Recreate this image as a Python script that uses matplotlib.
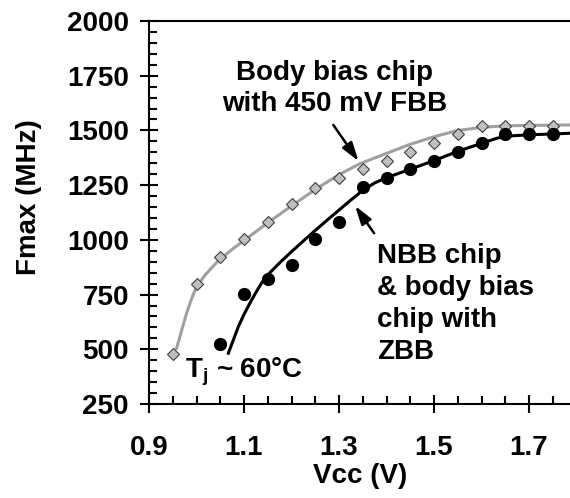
import matplotlib
matplotlib.use('Agg')
import matplotlib.pyplot as plt
from matplotlib.ticker import MultipleLocator, FixedLocator

plt.rcParams['font.family'] = ['Liberation Sans', 'DejaVu Sans']
plt.rcParams['font.weight'] = 'bold'
plt.rcParams['mathtext.fontset'] = 'custom'
plt.rcParams['mathtext.rm'] = 'Liberation Sans:bold'
plt.rcParams['mathtext.it'] = 'Liberation Sans:bold'
plt.rcParams['mathtext.bf'] = 'Liberation Sans:bold'

### Messpunkte ###
vcc_fbb = [0.95, 1.00, 1.05, 1.10, 1.15, 1.20, 1.25, 1.30, 1.35, 1.40, 1.45, 1.50, 1.55, 1.60, 1.65, 1.70, 1.75]
f_fbb = [480, 800, 920, 1002, 1083, 1162, 1238, 1281, 1324, 1360, 1403, 1441, 1482, 1522, 1522, 1522, 1522]

vcc_zbb = [1.05, 1.10, 1.15, 1.20, 1.25, 1.30, 1.35, 1.40, 1.45, 1.50, 1.55, 1.60, 1.65, 1.70, 1.75]
f_zbb = [523, 752, 820, 885, 1002, 1083, 1240, 1284, 1324, 1360, 1403, 1441, 1482, 1482, 1482]

### Trendlinien ###
vcc_fit_fbb = [0.958, 0.969, 0.979, 0.990, 1.000, 1.018, 1.046, 1.077, 1.10, 1.15, 1.20, 1.25, 1.30, 1.344, 1.40, 1.449, 1.50, 1.548, 1.60, 1.65, 1.70, 1.786]
f_fit_fbb = [504, 588, 664, 733, 786, 839, 905, 960, 997, 1078, 1155, 1230, 1298, 1348, 1395, 1436, 1471, 1499, 1514, 1521, 1523, 1525]

vcc_fit_zbb = [1.067, 1.078, 1.088, 1.099, 1.109, 1.123, 1.137, 1.15, 1.175, 1.20, 1.225, 1.25, 1.275, 1.30, 1.325, 1.35, 1.375, 1.40, 1.449, 1.50, 1.548, 1.60, 1.632, 1.653, 1.70, 1.751, 1.786]
f_fit_zbb = [482, 545, 603, 655, 697, 752, 803, 840, 895, 946, 995, 1043, 1090, 1136, 1182, 1226, 1260, 1284, 1322, 1362, 1403, 1441, 1464, 1474, 1480, 1484, 1487]

fs = 20

fig = plt.figure(figsize=(5.7, 4.98), dpi=100)
ax = fig.add_axes([149/570, 94/498, 1 - 149/570, 383/498])

ax.plot(vcc_fit_fbb, f_fit_fbb, color='#a0a0a0', lw=2.2, zorder=2)
ax.plot(vcc_fit_zbb, f_fit_zbb, color='black', lw=2.2, zorder=2)
ax.plot(vcc_fbb, f_fbb, 'D', ms=6.2, mfc='#c0c0c0', mec='#404040', mew=0.8, zorder=3, clip_on=False)
ax.plot(vcc_zbb, f_zbb, 'o', ms=8.5, color='black', zorder=4, clip_on=False)

ax.set_xlim(0.9, 0.9 + 421/475)
ax.set_ylim(250, 2000)

ax.xaxis.set_major_locator(FixedLocator([0.9, 1.1, 1.3, 1.5, 1.7]))
ax.xaxis.set_minor_locator(MultipleLocator(0.05))
ax.yaxis.set_major_locator(MultipleLocator(250))
ax.yaxis.set_minor_locator(MultipleLocator(50))
ax.tick_params(which='major', direction='inout', length=13, width=1.5, labelsize=fs)
ax.tick_params(which='minor', direction='in', length=5.5, width=1.5)
ax.tick_params(axis='y', which='major', pad=8)
ax.tick_params(axis='x', which='major', pad=16)
ax.set_xticklabels(['0.9', '1.1', '1.3', '1.5', '1.7'])

ax.spines['right'].set_visible(False)
for s in ['left', 'bottom', 'top']:
    ax.spines[s].set_linewidth(1.5)

ax.set_xlabel('Vcc (V)', fontsize=fs, fontweight='bold')
ax.xaxis.set_label_coords(0.501, -0.155)
ax.set_ylabel('Fmax (MHz)', fontsize=fs, fontweight='bold')
ax.yaxis.set_label_coords(-0.255, 0.54)

ax.text(1.29, 1690, 'Body bias chip\nwith 450 mV FBB', fontsize=fs, fontweight='bold',
        ha='center', va='center', linespacing=1.25)
ax.text(1.38, 985, 'NBB chip\n& body bias\nchip with\nZBB', fontsize=fs, fontweight='bold',
        ha='left', va='top', linespacing=1.3)
ax.text(0.975, 395, r'T$_\mathrm{j}$ ~ 60°C', fontsize=fs, fontweight='bold', ha='left', va='center')

pfeil = dict(arrowstyle='-|>,head_length=0.7,head_width=0.22', color='black', lw=1.8,
             mutation_scale=16, shrinkA=0, shrinkB=0)
ax.annotate('', xy=(1.341, 1360), xytext=(1.288, 1525), arrowprops=pfeil)
ax.annotate('', xy=(1.334, 1155), xytext=(1.374, 1030), arrowprops=pfeil)

plt.savefig('out.png', dpi=100)
plt.close()
